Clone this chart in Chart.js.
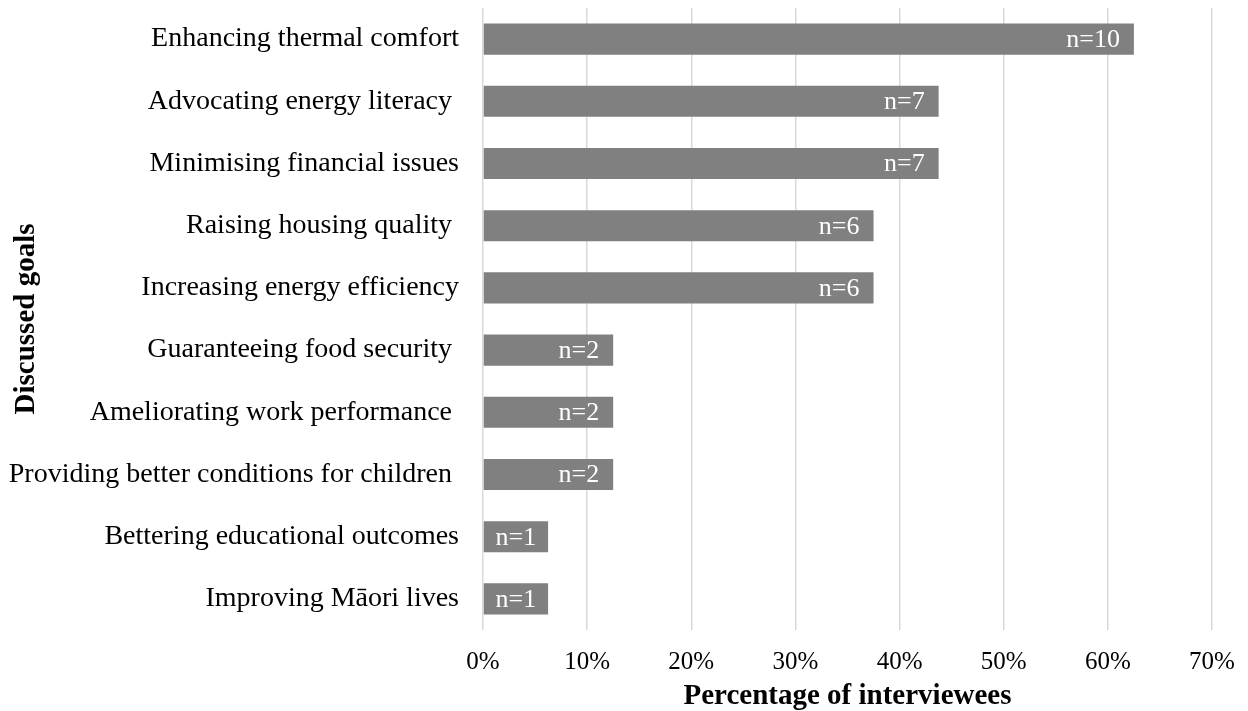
<!DOCTYPE html>
<html>
<head>
<meta charset="utf-8">
<script src="https://cdn.jsdelivr.net/npm/chart.js@4.4.1/dist/chart.umd.min.js"></script>
<style>
  html, body { margin: 0; padding: 0; background: #fff; }
  #wrap { width: 1248px; height: 711px; }
</style>
</head>
<body>
<div id="wrap"><canvas id="goals-chart"></canvas></div>
<script>
// Discussed goals data
var goals = [
  'Enhancing thermal comfort',
  'Advocating energy literacy ',
  'Minimising financial issues',
  'Raising housing quality ',
  'Increasing energy efficiency',
  'Guaranteeing food security ',
  'Ameliorating work performance ',
  'Providing better conditions for children ',
  'Bettering educational outcomes',
  'Improving Māori lives'
];
var counts = [10, 7, 7, 6, 6, 2, 2, 2, 1, 1];
var percentages = [62.5, 43.75, 43.75, 37.5, 37.5, 12.5, 12.5, 12.5, 6.25, 6.25];
var xTicks = [0, 10, 20, 30, 40, 50, 60, 70];

var serif = '"Liberation Serif", "Times New Roman", serif';

// draw the n= labels inside the bar ends
var countLabels = {
  id: 'countLabels',
  afterDatasetsDraw: function(chart) {
    var ctx = chart.ctx;
    var meta = chart.getDatasetMeta(0);
    ctx.save();
    ctx.font = '26px ' + serif;
    ctx.fillStyle = '#ffffff';
    ctx.textBaseline = 'middle';
    meta.data.forEach(function(bar, i) {
      var txt = 'n=' + counts[i];
      var w = ctx.measureText(txt).width;
      var barW = bar.x - bar.base;
      if (barW < w + 30) {
        ctx.textAlign = 'center';
        ctx.fillText(txt, (bar.x + bar.base) / 2, bar.y + 1);
      } else {
        ctx.textAlign = 'right';
        ctx.fillText(txt, bar.x - 14, bar.y + 1);
      }
    });
    ctx.restore();
  }
};

var ctx = document.getElementById('goals-chart').getContext('2d');
var goalsChart = new Chart(ctx, {
  type: 'bar',
  data: {
    labels: goals,
    datasets: [{
      data: percentages,
      backgroundColor: '#808080',
      borderWidth: 0,
      barPercentage: 0.5,
      categoryPercentage: 1.0
    }]
  },
  options: {
    indexAxis: 'y',
    responsive: true,
    maintainAspectRatio: false,
    animation: false,
    layout: { padding: { top: 8, right: 36, bottom: 0, left: 0 } },
    plugins: {
      legend: { display: false },
      tooltip: { enabled: false }
    },
    scales: {
      x: {
        min: 0,
        max: 70,
        afterBuildTicks: function(scale) {
          scale.ticks = xTicks.map(function(v) { return { value: v }; });
        },
        afterFit: function(scale) {
          scale.height = 81;
          scale.paddingLeft = 0;
          scale.paddingRight = 0;
        },
        grid: { color: '#d9d9d9', lineWidth: 1.5, drawTicks: false },
        border: { display: false },
        ticks: {
          padding: 17,
          color: '#000',
          font: { family: serif, size: 25 },
          callback: function(v) { return v + '%'; }
        },
        title: {
          display: true,
          text: 'Percentage of interviewees',
          color: '#000',
          font: { family: serif, size: 29, weight: 'bold', lineHeight: 1 },
          padding: { top: 0, bottom: 0 }
        }
      },
      y: {
        afterFit: function(scale) {
          scale.width = 483;
          scale.paddingTop = 0;
          scale.paddingBottom = 0;
        },
        grid: { display: false, drawTicks: false },
        border: { display: false },
        ticks: {
          padding: 24,
          color: '#000',
          font: { family: serif, size: 28 }
        },
        title: {
          display: true,
          text: 'Discussed goals',
          color: '#000',
          font: { family: serif, size: 29, weight: 'bold', lineHeight: 1 },
          padding: { top: 12, bottom: 0 }
        }
      }
    }
  },
  plugins: [countLabels]
});
</script>
</body>
</html>
